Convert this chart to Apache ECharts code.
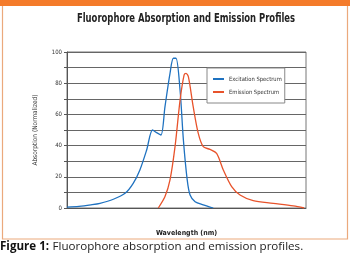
<!DOCTYPE html>
<html><head><meta charset="utf-8">
<script src="https://cdn.jsdelivr.net/npm/echarts@6/dist/echarts.min.js"></script>
<style>html,body{margin:0;padding:0;background:#fff}#c{width:350px;height:261px}</style>
</head><body><div id="c"></div>
<script>
const excitation = [[0,0.5],[5,1],[10,2],[13.8,3],[19.4,5.6],[24.3,9.4],[27.7,15.8],[30.5,24.4],[33.3,37],[35.8,50],[37.5,48.3],[39.3,46.8],[41,65],[43.1,86.3],[44.5,96],[45.6,96],[47.3,75.6],[48.7,43.6],[50.3,18],[51.5,8.3],[53.6,4],[57,2],[61.2,0]];
const emission = [[38.2,0],[41,7.3],[43.1,18],[45.2,39.3],[47.3,69],[49,85.3],[49.8,86.3],[50.8,84],[52.8,65],[54.9,48],[57,39.3],[59.8,37.6],[62.6,35],[65.4,24.4],[68.9,13.7],[72.4,8.3],[77.9,4.7],[86.3,3],[94.7,1.3],[99.2,0]];
const yTicks = [0,20,40,60,80,100];
const seriesNames = ['Excitation Spectrum','Emission Spectrum'];
const titleText = 'Fluorophore Absorption and Emission Profiles';

const COND = '"DejaVu Sans Condensed", sans-serif';
const chart = echarts.init(document.getElementById('c'), null, {renderer:'canvas'});
chart.setOption({
  animation:false,
  backgroundColor:'#fff',
  grid:{left:67, right:44, top:52, bottom:53, show:true, borderColor:'#777', borderWidth:1, backgroundColor:'transparent'},
  legend:{data:seriesNames, orient:'vertical', left:207, top:68,
    backgroundColor:'#fff', borderColor:'#888', borderWidth:1, padding:[8,3,8,6], itemGap:7,
    itemWidth:11, itemHeight:2, icon:'rect',
    textStyle:{fontFamily:COND, fontSize:5.8, color:'#333'}},
  xAxis:{type:'value', min:0, max:100, name:'Wavelength (nm)', nameLocation:'middle', nameGap:22,
    nameTextStyle:{fontFamily:COND, fontWeight:'bold', fontSize:7, color:'#222'},
    axisLine:{show:true, lineStyle:{color:'#555'}}, axisTick:{show:false}, axisLabel:{show:false}, splitLine:{show:false}},
  yAxis:{type:'value', min:0, max:100, interval:10, name:'Absorption (Normalized)', nameLocation:'middle', nameGap:28,
    nameTextStyle:{fontFamily:COND, fontSize:6.5, color:'#333'},
    axisLine:{show:true, lineStyle:{color:'#555'}},
    axisTick:{show:true, length:3, lineStyle:{color:'#555'}},
    axisLabel:{fontFamily:COND, fontSize:6, color:'#333', margin:5,
      formatter:v=> yTicks.includes(v)? String(v):''},
    splitLine:{show:true, lineStyle:{color:'#666', width:1}}},
  graphic:[
    {type:'rect', shape:{x:0,y:0,width:350,height:6}, style:{fill:'#f47b2a'}},
    {type:'rect', shape:{x:2.5,y:5,width:345,height:234}, style:{fill:'none', stroke:'#eba97c', lineWidth:1.2}, z:-1},
    {type:'text', x:186, y:19, scaleX:0.75, style:{text:titleText, fontFamily:COND, fontWeight:'bold', fontSize:12.5, fill:'#222', align:'center', verticalAlign:'middle'}},
    {type:'text', left:0, top:241, style:{rich:{b:{fontFamily:'Open Sans', fontWeight:'bold', fontSize:11.6, fill:'#111'}, n:{fontFamily:'Open Sans', fontSize:11.6, fill:'#222'}},
      text:'{b|Figure 1:} {n|Fluorophore absorption and emission profiles.}'}}
  ],
  series:[
    {name:seriesNames[0], type:'line', data:excitation, smooth:0.3, showSymbol:false, lineStyle:{color:'#1f72c0', width:1.3}, itemStyle:{color:'#1f72c0'}},
    {name:seriesNames[1], type:'line', data:emission, smooth:0.3, showSymbol:false, lineStyle:{color:'#e8532b', width:1.3}, itemStyle:{color:'#e8532b'}}
  ]
});
</script></body></html>
